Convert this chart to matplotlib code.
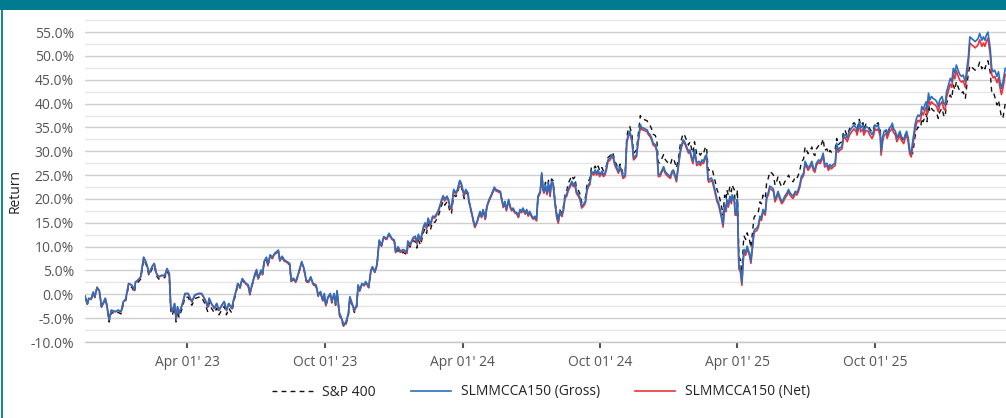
import matplotlib
matplotlib.use("Agg")
import matplotlib.pyplot as plt
import matplotlib.dates as mdates
from matplotlib.patches import Rectangle
from matplotlib.ticker import FuncFormatter, MultipleLocator
import numpy as np
import pandas as pd

plt.rcParams['font.family'] = ['Open Sans', 'DejaVu Sans']

START = "2022-11-16"

# days since START for each observation
day = [
    0, 3, 5, 8, 11, 13, 16, 19, 22, 27, 29, 32,
    35, 40, 44, 48, 51, 54, 58, 62, 66, 67, 71, 74,
    78, 81, 83, 85, 89, 92, 95, 98, 102, 106, 109, 112,
    114, 116, 119, 121, 123, 125, 129, 133, 137, 142, 146, 151,
    155, 160, 163, 165, 168, 172, 175, 178, 182, 185, 188, 191,
    195, 198, 201, 203, 206, 209, 214, 217, 219, 223, 226, 228,
    230, 234, 236, 238, 241, 243, 246, 249, 252, 255, 257, 259,
    262, 265, 268, 272, 274, 277, 280, 283, 288, 291, 294, 297,
    300, 303, 307, 310, 313, 316, 318, 320, 323, 326, 328, 331,
    333, 335, 338, 341, 344, 347, 350, 352, 355, 358, 361, 363,
    365, 368, 371, 373, 377, 380, 382, 385, 388, 391, 394, 397,
    401, 404, 408, 411, 413, 416, 419, 423, 428, 429, 432, 436,
    439, 441, 443, 446, 450, 452, 454, 456, 459, 462, 465, 469,
    472, 474, 476, 478, 481, 483, 485, 487, 490, 493, 495, 498,
    500, 502, 504, 506, 509, 510, 513, 515, 518, 521, 523, 525,
    527, 529, 532, 534, 537, 540, 544, 546, 549, 552, 554, 556,
    558, 560, 563, 565, 567, 569, 571, 574, 576, 578, 580, 582,
    585, 587, 589, 591, 594, 596, 598, 600, 602, 605, 607, 609,
    610, 612, 614, 616, 618, 620, 622, 625, 627, 629, 631, 634,
    636, 638, 640, 642, 645, 647, 649, 651, 653, 656, 658, 660,
    662, 665, 667, 669, 671, 673, 676, 678, 680, 682, 684, 687,
    689, 691, 693, 695, 698, 700, 702, 704, 707, 709, 711, 713,
    715, 718, 720, 722, 724, 727, 729, 731, 733, 735, 738, 740,
    742, 744, 747, 749, 751, 753, 755, 758, 760, 762, 764, 766,
    769, 771, 773, 775, 778, 780, 782, 784, 786, 789, 791, 793,
    795, 797, 800, 802, 804, 806, 808, 810, 812, 813, 816, 818,
    820, 822, 824, 826, 828, 829, 832, 834, 836, 837, 840, 842,
    844, 846, 848, 850, 852, 853, 855, 857, 859, 860, 863, 864,
    866, 867, 869, 871, 873, 875, 876, 878, 880, 882, 883, 885,
    887, 889, 890, 893, 895, 897, 899, 901, 904, 906, 908, 910,
    913, 915, 917, 919, 921, 924, 926, 928, 930, 933, 935, 937,
    939, 941, 944, 946, 948, 950, 952, 955, 957, 959, 961, 964,
    966, 968, 970, 972, 975, 977, 979, 981, 983, 986, 988, 990,
    992, 994, 997, 999, 1001, 1003, 1006, 1008, 1010, 1011, 1013, 1016,
    1019, 1022, 1025, 1026, 1029, 1031, 1034, 1035, 1038, 1041, 1043, 1046,
    1048, 1050, 1052, 1054, 1057, 1058, 1060, 1062, 1065, 1066, 1069, 1071,
    1073, 1074, 1077, 1079, 1081, 1083, 1085, 1088, 1090, 1092, 1094, 1096,
    1098, 1100, 1102, 1103, 1105, 1107, 1109, 1111, 1112, 1114, 1116, 1118,
    1119, 1121, 1123, 1125, 1127, 1130, 1132, 1134, 1136, 1139, 1141, 1143,
    1145, 1147, 1150, 1152, 1154, 1156, 1158, 1161, 1163, 1165, 1167, 1170,
    1172, 1174, 1176, 1178, 1181, 1183, 1185, 1187, 1189, 1192, 1194, 1196,
    1198, 1200, 1203, 1205, 1207, 1209, 1212, 1214, 1216, 1218, 1220, 1223,
]

# cumulative return, %
gross = [
    -0.3, -2.0, -0.8, -1.0, 0.5, -0.5, 1.5, 0.8, -2.6, -0.8, -2.2, -5.3,
    -3.3, -3.6, -3.3, -3.6, -1.5, -1.0, 2.3, 2.0, 0.9, 2.6, 3.1, 3.7,
    7.8, 6.8, 5.8, 4.4, 5.8, 6.5, 4.4, 3.7, 4.0, 4.0, 5.4, 4.4,
    -2.6, -3.6, -1.9, -5.0, -2.6, -4.0, -2.2, 0.2, 0.2, -1.5, -0.1, 0.2,
    0.2, -1.2, -2.6, -0.8, -1.9, -2.9, -1.9, -3.3, -2.2, -1.5, -3.3, -1.9,
    -2.9, -0.8, 0.9, 2.3, 1.6, 3.3, 2.3, 2.0, 0.2, 2.7, 4.4, 5.2,
    3.4, 5.1, 4.4, 6.9, 7.8, 6.2, 8.3, 7.8, 8.6, 9.0, 9.3, 7.2,
    8.0, 7.2, 6.9, 6.5, 3.0, 3.4, 2.7, 4.1, 6.9, 5.5, 3.0, 2.7,
    3.7, 2.3, 2.0, -0.1, 0.6, -1.2, 0.2, -2.2, -0.5, 0.2, -1.5, 0.2,
    -2.0, 0.8, -3.8, -5.0, -6.4, -5.7, -4.0, -0.5, -1.9, -3.3, -2.2, 2.0,
    0.9, 2.3, 2.0, 2.7, 1.6, 5.1, 5.8, 4.8, 6.2, 11.4, 10.3, 12.1,
    11.7, 12.8, 11.7, 11.4, 9.0, 10.0, 9.1, 9.4, 8.9, 11.2, 10.5, 11.9,
    12.2, 10.9, 12.6, 11.5, 14.3, 15.0, 14.0, 16.0, 14.7, 16.4, 16.3, 17.4,
    18.8, 19.9, 20.7, 19.9, 20.6, 19.9, 18.5, 18.1, 22.0, 21.3, 22.0, 23.9,
    23.4, 22.0, 20.9, 22.0, 21.3, 19.9, 17.8, 16.4, 14.3, 15.3, 16.4, 17.4,
    16.4, 17.8, 16.0, 18.5, 19.9, 20.9, 22.5, 22.0, 21.8, 21.6, 19.9, 18.5,
    19.5, 17.8, 19.9, 18.5, 17.8, 18.1, 17.4, 17.1, 16.4, 17.8, 17.4, 18.1,
    17.1, 17.8, 16.7, 17.4, 16.4, 16.0, 16.4, 15.7, 20.6, 21.6, 25.5, 22.0,
    21.6, 23.0, 21.3, 23.4, 20.9, 23.7, 23.4, 18.8, 16.4, 15.3, 17.4, 16.7,
    18.1, 20.6, 20.9, 22.0, 23.0, 23.7, 23.0, 23.4, 21.6, 20.9, 20.2, 18.5,
    18.8, 19.5, 22.0, 23.0, 23.4, 25.8, 25.4, 26.1, 25.4, 26.1, 25.1, 25.8,
    25.1, 25.4, 26.5, 28.2, 28.6, 29.3, 28.9, 27.5, 26.5, 25.8, 26.8, 26.1,
    24.7, 25.1, 32.1, 33.5, 34.2, 32.4, 28.6, 28.9, 29.3, 32.1, 35.6, 34.9,
    34.9, 34.7, 34.5, 33.8, 33.5, 32.8, 31.7, 31.4, 30.3, 25.1, 25.1, 25.8,
    26.8, 25.8, 25.4, 25.1, 24.7, 25.8, 26.1, 25.1, 24.0, 27.5, 30.0, 31.4,
    32.4, 32.0, 30.8, 30.0, 30.3, 28.9, 27.9, 30.3, 28.6, 27.5, 27.9, 27.5,
    28.2, 27.9, 28.9, 29.3, 24.4, 24.0, 24.4, 24.0, 22.7, 22.0, 19.9, 19.2,
    17.8, 16.4, 14.6, 18.8, 17.8, 19.9, 18.8, 20.6, 19.5, 20.9, 19.9, 17.1,
    17.1, 19.9, 5.9, 5.2, 2.4, 8.0, 9.4, 8.7, 10.1, 9.1, 8.7, 7.0,
    10.1, 13.2, 13.6, 13.9, 14.6, 16.4, 16.0, 17.8, 17.1, 20.6, 21.3, 22.7,
    22.4, 22.0, 19.9, 20.6, 21.6, 20.2, 19.5, 19.9, 20.6, 21.3, 22.0, 21.3,
    20.9, 20.6, 21.6, 21.3, 22.0, 23.0, 24.7, 25.4, 27.9, 27.2, 26.5, 27.2,
    27.9, 26.5, 26.1, 27.5, 28.2, 27.9, 28.6, 29.6, 27.2, 27.5, 26.5, 27.2,
    26.8, 27.2, 27.5, 31.7, 30.3, 30.7, 31.0, 33.1, 33.5, 33.5, 32.8, 34.2,
    34.9, 35.5, 34.9, 34.2, 36.2, 34.9, 35.5, 34.2, 35.2, 34.9, 34.2, 33.5,
    34.2, 35.5, 35.2, 35.5, 33.8, 30.0, 32.8, 34.2, 34.5, 33.5, 34.9, 35.2,
    35.9, 34.9, 34.2, 32.8, 33.5, 34.2, 33.1, 32.4, 33.5, 34.2, 32.8, 30.3,
    29.6, 32.1, 34.2, 35.5, 36.9, 37.6, 37.3, 38.0, 39.4, 38.7, 39.7, 40.4,
    38.7, 42.2, 40.8, 41.5, 41.1, 40.8, 40.4, 39.4, 40.8, 41.5, 40.1, 39.7,
    42.5, 43.6, 45.3, 44.6, 47.4, 46.4, 48.1, 46.7, 46.0, 45.7, 46.0, 44.6,
    47.4, 49.8, 54.0, 53.7, 53.3, 53.0, 53.3, 53.7, 54.7, 53.3, 54.0, 53.3,
    54.4, 55.0, 51.6, 47.4, 46.7, 47.0, 45.7, 46.7, 44.6, 43.2, 44.6, 47.4,
]

net = [
    -0.4, -2.1, -0.9, -1.1, 0.4, -0.6, 1.4, 0.7, -2.7, -0.9, -2.3, -5.4,
    -3.4, -3.7, -3.4, -3.7, -1.6, -1.1, 2.2, 1.9, 0.8, 2.5, 3.0, 3.6,
    7.7, 6.7, 5.7, 4.3, 5.7, 6.4, 4.3, 3.6, 3.9, 3.9, 5.3, 4.3,
    -2.7, -3.7, -2.0, -5.1, -2.7, -4.1, -2.3, 0.1, 0.1, -1.6, -0.2, 0.1,
    0.1, -1.3, -2.7, -0.9, -2.0, -3.0, -2.0, -3.4, -2.3, -1.6, -3.4, -2.0,
    -3.0, -0.9, 0.8, 2.2, 1.5, 3.2, 2.1, 1.8, 0.0, 2.5, 4.2, 5.0,
    3.2, 4.9, 4.2, 6.7, 7.6, 6.0, 8.1, 7.6, 8.4, 8.8, 9.1, 7.0,
    7.8, 7.0, 6.7, 6.3, 2.8, 3.2, 2.5, 3.9, 6.7, 5.3, 2.8, 2.5,
    3.5, 2.1, 1.8, -0.3, 0.4, -1.4, 0.0, -2.4, -0.7, 0.0, -1.7, 0.0,
    -2.2, 0.6, -4.0, -5.2, -6.6, -5.9, -4.2, -0.7, -2.1, -3.5, -2.4, 1.8,
    0.7, 2.1, 1.8, 2.5, 1.4, 4.9, 5.6, 4.6, 6.0, 11.2, 10.1, 11.9,
    11.5, 12.6, 11.5, 11.2, 8.8, 9.8, 8.8, 9.1, 8.6, 10.9, 10.2, 11.6,
    11.9, 10.6, 12.3, 11.2, 14.0, 14.7, 13.7, 15.7, 14.4, 16.1, 16.0, 17.1,
    18.5, 19.6, 20.4, 19.6, 20.3, 19.6, 18.2, 17.8, 21.7, 21.0, 21.7, 23.6,
    23.1, 21.7, 20.6, 21.7, 21.0, 19.6, 17.5, 16.1, 14.0, 15.0, 16.1, 17.1,
    16.1, 17.5, 15.7, 18.2, 19.6, 20.6, 22.2, 21.7, 21.5, 21.3, 19.6, 18.2,
    19.2, 17.5, 19.6, 18.2, 17.5, 17.8, 17.1, 16.8, 16.1, 17.5, 17.1, 17.8,
    16.8, 17.5, 16.4, 17.1, 16.1, 15.7, 16.1, 15.4, 20.3, 21.3, 25.2, 21.7,
    21.2, 22.6, 20.9, 23.0, 20.5, 23.3, 23.0, 18.4, 16.0, 14.9, 17.0, 16.3,
    17.7, 20.2, 20.5, 21.6, 22.6, 23.3, 22.6, 23.0, 21.2, 20.5, 19.8, 18.1,
    18.4, 19.1, 21.6, 22.6, 23.0, 25.4, 25.0, 25.7, 25.0, 25.7, 24.7, 25.4,
    24.7, 25.0, 26.1, 27.8, 28.2, 28.9, 28.5, 27.1, 26.1, 25.4, 26.4, 25.7,
    24.3, 24.7, 31.7, 33.1, 33.8, 32.0, 28.2, 28.5, 28.9, 31.7, 35.2, 34.5,
    34.5, 34.3, 34.1, 33.4, 33.1, 32.4, 31.3, 31.0, 29.9, 24.7, 24.7, 25.4,
    26.4, 25.4, 25.0, 24.7, 24.3, 25.4, 25.7, 24.7, 23.6, 27.1, 29.6, 31.0,
    32.0, 31.6, 30.4, 29.6, 29.8, 28.4, 27.4, 29.8, 28.1, 27.0, 27.4, 27.0,
    27.7, 27.4, 28.4, 28.8, 23.9, 23.5, 23.9, 23.5, 22.2, 21.5, 19.4, 18.7,
    17.3, 15.9, 14.1, 18.3, 17.3, 19.4, 18.3, 20.1, 19.0, 20.4, 19.4, 16.6,
    16.6, 19.4, 5.4, 4.7, 1.9, 7.5, 8.9, 8.2, 9.6, 8.6, 8.2, 6.5,
    9.6, 12.7, 13.1, 13.4, 14.1, 15.9, 15.5, 17.3, 16.6, 20.1, 20.8, 22.2,
    21.9, 21.5, 19.4, 20.1, 21.1, 19.7, 19.0, 19.4, 20.1, 20.8, 21.5, 20.8,
    20.4, 20.1, 21.1, 20.8, 21.5, 22.5, 24.2, 24.9, 27.4, 26.7, 26.0, 26.7,
    27.4, 26.0, 25.6, 27.0, 27.7, 27.4, 28.1, 29.1, 26.7, 27.0, 26.0, 26.7,
    26.3, 26.7, 27.0, 31.2, 29.8, 30.2, 30.5, 32.6, 33.0, 32.7, 32.0, 33.4,
    34.1, 34.7, 34.1, 33.4, 35.4, 34.1, 34.7, 33.4, 34.4, 34.1, 33.4, 32.7,
    33.4, 34.7, 34.4, 34.7, 33.0, 29.2, 32.0, 33.4, 33.7, 32.7, 34.1, 34.4,
    35.1, 34.1, 33.4, 32.0, 32.7, 33.4, 32.3, 31.6, 32.7, 33.4, 32.0, 29.5,
    28.8, 31.0, 33.1, 34.4, 35.8, 36.5, 36.2, 36.9, 38.3, 37.6, 38.6, 39.3,
    37.6, 41.1, 39.7, 40.4, 40.0, 39.7, 39.3, 38.3, 39.7, 40.4, 39.0, 38.6,
    41.3, 42.4, 44.1, 43.4, 46.2, 45.2, 46.9, 45.5, 44.8, 44.5, 44.8, 43.4,
    46.2, 48.5, 52.7, 52.4, 52.0, 51.7, 52.0, 52.4, 53.4, 52.0, 52.7, 52.0,
    53.1, 53.7, 50.3, 46.1, 45.4, 45.7, 44.4, 45.4, 43.3, 41.9, 43.3, 46.1,
]

sp400 = [
    -0.5, -2.2, -1.0, -1.2, 0.3, -0.7, 1.3, 0.6, -2.8, -1.0, -2.4, -5.8,
    -3.8, -4.1, -3.8, -4.1, -2.0, -1.5, 1.8, 1.5, 0.4, 2.1, 2.6, 3.2,
    7.3, 6.3, 5.3, 3.9, 5.3, 6.0, 3.9, 3.2, 3.5, 3.5, 4.9, 3.9,
    -3.4, -4.4, -2.7, -5.8, -3.4, -4.8, -3.0, -0.6, -0.6, -2.3, -0.9, -0.6,
    -0.6, -2.2, -3.6, -1.8, -2.9, -3.9, -2.9, -4.3, -3.2, -2.5, -4.3, -2.9,
    -3.9, -1.4, 0.5, 2.0, 1.3, 3.0, 2.0, 1.7, -0.1, 2.4, 4.1, 4.9,
    3.1, 4.8, 4.1, 6.6, 7.5, 5.9, 8.0, 7.5, 8.3, 8.7, 9.0, 6.9,
    7.7, 6.9, 6.6, 6.2, 2.7, 3.1, 2.4, 3.8, 6.6, 5.2, 2.7, 2.4,
    3.4, 2.0, 1.7, -0.4, 0.3, -1.5, -0.1, -2.5, -0.8, -0.1, -1.8, -0.1,
    -2.3, 0.3, -4.3, -5.5, -6.9, -6.2, -4.5, -1.0, -2.4, -3.8, -2.7, 1.8,
    0.7, 2.1, 1.8, 2.5, 1.4, 4.9, 5.6, 4.6, 6.0, 11.2, 10.1, 11.9,
    11.5, 12.6, 11.5, 11.2, 8.4, 9.4, 8.5, 8.8, 8.3, 10.6, 9.9, 11.3,
    11.0, 9.7, 11.4, 10.3, 13.1, 13.8, 12.8, 14.8, 13.5, 15.2, 15.1, 16.2,
    17.6, 18.7, 19.5, 18.7, 19.4, 18.7, 17.3, 16.9, 20.8, 20.5, 21.2, 23.1,
    22.6, 21.2, 20.1, 21.2, 21.1, 19.7, 17.6, 16.2, 14.1, 15.1, 16.2, 17.2,
    16.2, 17.6, 15.8, 18.3, 19.7, 20.7, 22.3, 21.8, 21.6, 21.4, 19.7, 18.3,
    19.3, 17.6, 19.7, 18.3, 17.6, 17.9, 17.2, 16.9, 16.2, 17.6, 17.2, 17.9,
    16.9, 17.6, 16.5, 17.2, 16.2, 15.8, 16.2, 15.5, 20.4, 21.4, 25.3, 21.8,
    22.1, 23.5, 21.8, 23.9, 21.4, 24.2, 23.9, 19.1, 16.7, 15.6, 17.7, 17.0,
    18.6, 21.1, 21.4, 23.2, 24.2, 24.9, 24.2, 24.6, 22.4, 21.7, 21.0, 19.3,
    19.6, 20.3, 22.8, 23.8, 24.2, 26.6, 26.2, 26.9, 26.2, 26.9, 25.9, 26.6,
    25.9, 26.2, 27.0, 28.7, 29.1, 29.8, 29.4, 28.0, 27.0, 26.3, 27.3, 26.6,
    25.2, 25.6, 33.1, 34.5, 35.2, 33.4, 29.6, 29.9, 30.3, 33.1, 37.5, 36.8,
    36.8, 36.6, 36.4, 35.7, 35.4, 34.7, 33.6, 33.3, 32.2, 27.6, 27.6, 28.3,
    29.3, 28.3, 27.9, 27.6, 27.2, 28.3, 28.6, 27.6, 26.5, 28.8, 31.3, 32.7,
    33.7, 33.3, 32.1, 31.3, 32.0, 30.6, 29.6, 32.0, 30.3, 29.2, 29.6, 29.2,
    29.9, 29.6, 30.6, 31.0, 26.4, 26.0, 26.4, 26.0, 24.7, 24.0, 21.9, 21.2,
    19.8, 18.4, 16.6, 20.8, 19.8, 21.9, 20.8, 22.6, 21.5, 22.9, 21.9, 19.1,
    19.1, 21.9, 7.9, 7.2, 4.4, 10.8, 12.2, 11.5, 12.9, 11.9, 11.5, 9.8,
    12.9, 16.0, 16.4, 16.7, 17.4, 19.4, 19.0, 20.8, 20.1, 23.6, 24.3, 25.7,
    25.4, 25.0, 22.9, 23.6, 24.6, 23.2, 22.5, 22.9, 23.6, 24.3, 25.0, 24.3,
    23.9, 23.6, 24.6, 24.3, 25.0, 26.0, 27.7, 28.4, 30.9, 30.2, 29.5, 30.2,
    30.9, 29.5, 29.1, 30.5, 31.2, 30.9, 31.6, 32.6, 30.2, 30.5, 29.5, 30.2,
    29.8, 30.2, 30.5, 32.7, 31.3, 31.7, 32.0, 34.1, 34.5, 34.0, 33.3, 34.7,
    35.4, 36.0, 35.4, 34.7, 36.7, 35.4, 36.0, 34.7, 35.7, 35.4, 34.7, 34.0,
    34.7, 36.0, 35.7, 36.0, 34.3, 29.7, 32.5, 33.9, 34.2, 33.2, 34.6, 34.9,
    35.6, 34.6, 33.9, 32.5, 33.2, 33.9, 32.8, 32.1, 33.2, 33.9, 32.5, 30.0,
    29.3, 29.6, 31.7, 33.0, 34.4, 35.1, 34.8, 35.5, 36.9, 36.2, 37.2, 37.9,
    36.2, 39.7, 38.3, 39.0, 38.6, 38.3, 37.9, 36.9, 38.3, 39.0, 37.6, 37.2,
    40.0, 41.1, 41.8, 41.1, 43.9, 42.9, 44.6, 43.2, 42.5, 42.2, 42.5, 41.1,
    43.9, 46.3, 48.0, 47.7, 47.3, 47.0, 47.3, 47.7, 48.7, 47.3, 48.0, 47.3,
    48.4, 49.0, 46.6, 42.4, 42.5, 41.5, 39.7, 40.7, 39.0, 37.0, 37.1, 40.0,
]

series_names = ["S&P 400", "SLMMCCA150 (Gross)", "SLMMCCA150 (Net)"]
tick_dates = ["2023-04-01", "2023-10-01", "2024-04-01",
              "2024-10-01", "2025-04-01", "2025-10-01"]

TEAL = "#007b8f"
BLUE = "#2b6fbd"
RED = "#e8333c"

dates = pd.Timestamp(START) + pd.to_timedelta(day, unit="D")

W, H = 1006, 418
fig = plt.figure(figsize=(W / 100, H / 100), dpi=100)
fig.patch.set_facecolor("white")

# frame + header strip
fig.patches.append(Rectangle((0.002, -0.05), 1.2, 1.05, transform=fig.transFigure,
                             fill=False, edgecolor=TEAL, linewidth=1.3, zorder=0))
fig.patches.append(Rectangle((0, 1 - 10 / H), 1, 10 / H, transform=fig.transFigure,
                             facecolor=TEAL, edgecolor="none", zorder=1))

ax = fig.add_axes([85 / W, 1 - 342 / H, 1 - 85 / W, (342 - 17.8) / H])

ax.plot(dates, sp400, color="#111111", lw=1.0, ls=(0, (3.5, 3)), zorder=3, label=series_names[0])
ax.plot(dates, net, color=RED, lw=1.2, zorder=4, label=series_names[2])
ax.plot(dates, gross, color=BLUE, lw=1.2, zorder=5, label=series_names[1])

ax.set_ylim(-10, 58)
ax.set_xlim(pd.Timestamp(START), pd.Timestamp(START) + pd.Timedelta(days=1224))

ax.yaxis.set_major_locator(MultipleLocator(5))
ax.yaxis.set_minor_locator(MultipleLocator(2.5))
ax.yaxis.set_major_formatter(FuncFormatter(lambda v, p: f"{v:.1f}%"))
ax.grid(axis="y", which="major", color="#cfcfcf", lw=1.0)
ax.grid(axis="y", which="minor", color="#e6e6e6", lw=1.0)
ax.set_axisbelow(True)

ax.set_xticks(pd.to_datetime(tick_dates))
ax.xaxis.set_major_formatter(mdates.DateFormatter("%b %d' %y"))

for s in ["top", "right", "left"]:
    ax.spines[s].set_visible(False)
ax.spines["bottom"].set_color("#c8c8c8")
ax.spines["bottom"].set_linewidth(1.0)

ax.tick_params(axis="y", which="both", length=0, labelsize=10, labelcolor="#555555", pad=8)
ax.tick_params(axis="x", length=4, width=1.5, color="#555555", labelsize=10,
               labelcolor="#555555", pad=5)

fig.text(15 / W, 1 - 191 / H, "Return", rotation=90, ha="center", va="center",
         fontsize=10, color="#222222")

handles, labels = ax.get_legend_handles_labels()
order = [labels.index(n) for n in series_names]
ax.legend([handles[i] for i in order], [labels[i] for i in order],
          loc="center", bbox_to_anchor=(541 / W, 1 - 392 / H), bbox_transform=fig.transFigure,
          ncol=3, frameon=False, fontsize=10, handlelength=2.9, handletextpad=0.7,
          columnspacing=2.5, labelcolor="#222222")

fig.savefig("out.png", dpi=100)
